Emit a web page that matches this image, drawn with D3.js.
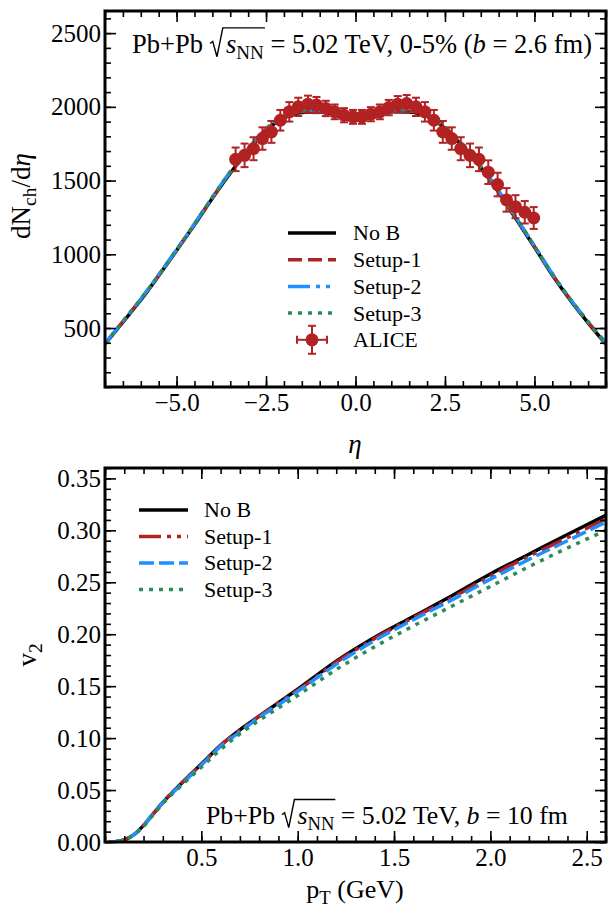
<!DOCTYPE html>
<html lang="en">
<head>
<meta charset="UTF-8">
<title>dNch/deta and v2, Pb+Pb 5.02 TeV</title>
<style>
  body { margin: 0; background: #fff; }
  svg, svg text, svg tspan { font-family: "Liberation Serif", "Times New Roman", "DejaVu Serif", serif !important; }
  .tick line { stroke: #000; stroke-width: 1.6; }
  .domain { display: none; }
</style>
</head>
<body>
<div id="chart"></div>
<script src="https://d3js.org/d3.v7.min.js"></script>
<script>
// ---- top panel: dNch/deta vs eta ----
const etaGrid = [-7, -6.5, -6, -5.5, -5, -4.5, -4, -3.5, -3, -2.5, -2, -1.5, -1, -0.5, 0,
                 0.5, 1, 1.5, 2, 2.5, 3, 3.5, 4, 4.5, 5, 5.5, 6, 6.5, 7];
const dnNoB   = [390, 540, 690, 855, 1025, 1200, 1380, 1550, 1705, 1840, 1925, 1962, 1966, 1940, 1908,
                 1932, 1966, 1965, 1935, 1855, 1730, 1590, 1420, 1235, 1050, 860, 690, 535, 390];
const dnSetup1 = [392, 543, 694, 858, 1028, 1204, 1384, 1556, 1712, 1848, 1932, 1968, 1970, 1944, 1912,
                 1936, 1970, 1970, 1941, 1862, 1736, 1595, 1425, 1240, 1054, 864, 694, 540, 394];
const dnSetup2 = [395, 546, 697, 861, 1031, 1207, 1388, 1560, 1716, 1852, 1936, 1972, 1974, 1946, 1914,
                 1938, 1974, 1975, 1946, 1866, 1740, 1599, 1430, 1244, 1058, 868, 697, 543, 397];
const dnSetup3 = [393, 544, 695, 859, 1029, 1205, 1386, 1558, 1714, 1850, 1934, 1970, 1972, 1945, 1913,
                 1937, 1972, 1972, 1944, 1864, 1738, 1597, 1428, 1242, 1056, 866, 695, 541, 395];

const aliceEta = [-3.35, -3.1, -2.85, -2.6, -2.35, -2.1, -1.85, -1.6, -1.33, -1.09, -0.83, -0.58, -0.32, -0.07,
                  0.18, 0.43, 0.68, 0.93, 1.18, 1.43, 1.69, 1.94, 2.19, 2.44, 2.69, 2.94, 3.2, 3.45,
                  3.71, 3.97, 4.22, 4.47, 4.73, 4.98];
const aliceVal = [1644, 1671, 1716, 1785, 1830, 1909, 1966, 2000, 2018, 2012, 1989, 1966, 1943, 1932,
                  1932, 1950, 1966, 1995, 2018, 2022, 2000, 1966, 1909, 1830, 1785, 1716, 1671, 1644,
                  1557, 1473, 1369, 1323, 1285, 1246];
const aliceErr = [80, 80, 78, 76, 74, 70, 66, 62, 58, 55, 52, 50, 48, 47,
                  47, 48, 50, 52, 55, 58, 62, 66, 70, 74, 76, 78, 80, 80,
                  80, 80, 80, 78, 76, 74];

const etaTicks = [-5, -2.5, 0, 2.5, 5];
const dnTicks = [500, 1000, 1500, 2000, 2500];

// ---- bottom panel: v2 vs pT ----
const ptGrid = [0.02, 0.05, 0.1, 0.15, 0.2, 0.25, 0.3, 0.4, 0.5, 0.6, 0.7, 0.8, 0.9, 1.0,
                1.2, 1.4, 1.6, 1.8, 2.0, 2.2, 2.4, 2.6];
const v2NoB    = [0, 0.0003, 0.002, 0.007, 0.016, 0.027, 0.038, 0.057, 0.075, 0.093, 0.108, 0.121, 0.134, 0.147,
                  0.174, 0.197, 0.217, 0.237, 0.258, 0.277, 0.296, 0.3145];
const v2Setup1 = [0, 0.0003, 0.002, 0.007, 0.016, 0.027, 0.038, 0.057, 0.075, 0.093, 0.108, 0.121, 0.134, 0.146,
                  0.173, 0.196, 0.216, 0.235, 0.256, 0.275, 0.293, 0.311];
const v2Setup2 = [0, 0.0003, 0.002, 0.007, 0.016, 0.027, 0.038, 0.056, 0.074, 0.092, 0.106, 0.120, 0.132, 0.145,
                  0.171, 0.194, 0.214, 0.233, 0.253, 0.272, 0.290, 0.308];
const v2Setup3 = [0, 0.0003, 0.002, 0.007, 0.015, 0.026, 0.037, 0.055, 0.072, 0.089, 0.104, 0.117, 0.129, 0.141,
                  0.166, 0.188, 0.208, 0.227, 0.246, 0.265, 0.283, 0.300];

const ptTicks = [0.5, 1.0, 1.5, 2.0, 2.5];
const v2Ticks = [0, 0.05, 0.10, 0.15, 0.20, 0.25, 0.30, 0.35];

const red = "#b22222", blue = "#1e90ff", green = "#2e8b57";
const serif = '"Liberation Serif", "Times New Roman", "DejaVu Serif", serif';

const svg = d3.select("#chart").append("svg")
  .attr("width", 611)
  .attr("height", 907)
  .style("font-family", serif);

const x1 = d3.scaleLinear().domain([-7, 7]).range([105, 606]);
const y1 = d3.scaleLinear().domain([100, 2650]).range([387, 11]);
const x2 = d3.scaleLinear().domain([0, 2.6]).range([105, 606]);
const y2 = d3.scaleLinear().domain([0, 0.36]).range([842, 468]);

function clip(id, x, y) {
  svg.append("clipPath").attr("id", id).append("rect")
    .attr("x", x.range()[0]).attr("y", y.range()[1])
    .attr("width", x.range()[1] - x.range()[0])
    .attr("height", y.range()[0] - y.range()[1]);
}
clip("c1", x1, y1);
clip("c2", x2, y2);

// ticks on all four sides, pointing inward
function drawAxes(x, y, xTicks, yTicks, xMinor, yMinor, xFmt, yFmt) {
  const [l, r] = x.range(), [b, t] = y.range();
  const style = g => g.attr("font-family", serif).selectAll("text")
    .style("font-size", "25px").style("font-family", serif);
  svg.append("g").attr("transform", `translate(0,${b})`)
    .call(d3.axisBottom(x).tickValues(xTicks).tickSize(-11).tickPadding(6).tickFormat(xFmt)).call(style);
  svg.append("g").attr("transform", `translate(0,${b})`)
    .call(d3.axisBottom(x).tickValues(xMinor).tickSize(-6).tickFormat(""));
  svg.append("g").attr("transform", `translate(0,${t})`)
    .call(d3.axisTop(x).tickValues(xTicks).tickSize(-11).tickFormat(""));
  svg.append("g").attr("transform", `translate(0,${t})`)
    .call(d3.axisTop(x).tickValues(xMinor).tickSize(-6).tickFormat(""));
  svg.append("g").attr("transform", `translate(${l},0)`)
    .call(d3.axisLeft(y).tickValues(yTicks).tickSize(-11).tickPadding(4).tickFormat(yFmt)).call(style);
  svg.append("g").attr("transform", `translate(${l},0)`)
    .call(d3.axisLeft(y).tickValues(yMinor).tickSize(-6).tickFormat(""));
  svg.append("g").attr("transform", `translate(${r},0)`)
    .call(d3.axisRight(y).tickValues(yTicks).tickSize(-11).tickFormat(""));
  svg.append("g").attr("transform", `translate(${r},0)`)
    .call(d3.axisRight(y).tickValues(yMinor).tickSize(-6).tickFormat(""));
  svg.append("rect").attr("x", l).attr("y", t).attr("width", r - l).attr("height", b - t)
    .attr("fill", "none").attr("stroke", "#000").attr("stroke-width", 3);
}

// text made of pieces: {t, i: italic, sub: subscript, rad: under radical}
function mathText(x, y, size, parts, rotate, anchor) {
  const t = svg.append("text").attr("x", x).attr("y", y)
    .style("font-size", size + "px").style("font-family", serif);
  if (rotate) t.attr("transform", `rotate(-90,${x},${y})`);
  if (anchor) t.attr("text-anchor", anchor);
  let shift = 0, idx = 0, radStart = -1, radEnd = -1;
  parts.forEach(p => {
    const s = t.append("tspan").text(p.t);
    if (p.i) s.style("font-style", "italic");
    const want = p.sub ? size * 0.24 : 0;
    if (want !== shift) { s.attr("dy", want - shift); shift = want; }
    if (p.sub) s.style("font-size", (size * 0.72) + "px");
    if (p.rad) {
      if (radStart < 0) { radStart = idx; s.attr("dx", size * 0.62); }
      radEnd = idx + p.t.length - 1;
    }
    idx += p.t.length;
  });
  if (radStart >= 0) {
    const n = t.node();
    const a = n.getStartPositionOfChar(radStart).x;
    const e = n.getEndPositionOfChar(radEnd).x;
    const s = size;
    const pts = [[a - 0.6 * s, y - 0.36 * s], [a - 0.5 * s, y - 0.44 * s], [a - 0.34 * s, y + 0.14 * s],
                 [a - 0.12 * s, y - 0.95 * s], [e + 0.04 * s, y - 0.95 * s]];
    svg.append("path").attr("d", d3.line()(pts))
      .attr("fill", "none").attr("stroke", "#000").attr("stroke-width", 1.4);
  }
  return t;
}

function label(x, y, size, str) {
  return svg.append("text").attr("x", x).attr("y", y).attr("dy", "0.34em")
    .style("font-size", size + "px").style("font-family", serif).text(str);
}

// ---------- top panel ----------
const line1 = d3.line().x((d, i) => x1(etaGrid[i])).y(d => y1(d)).curve(d3.curveMonotoneX);
const topSeries = [
  {name: "No B", vals: dnNoB, color: "#000", dash: null},
  {name: "Setup-1", vals: dnSetup1, color: red, dash: "14,6"},
  {name: "Setup-2", vals: dnSetup2, color: blue, dash: "22,6,4,6,4,6"},
  {name: "Setup-3", vals: dnSetup3, color: green, dash: "4,6"}
];
const gTop = svg.append("g").attr("clip-path", "url(#c1)");
topSeries.forEach(s => {
  gTop.append("path").attr("d", line1(s.vals))
    .attr("fill", "none").attr("stroke", s.color).attr("stroke-width", 3.5)
    .attr("stroke-dasharray", s.dash);
});

const alice = gTop.append("g");
aliceEta.forEach((e, i) => {
  const cx = x1(e), v = aliceVal[i], er = aliceErr[i];
  const g = alice.append("g").attr("stroke", red).attr("stroke-width", 2);
  g.append("line").attr("x1", cx).attr("x2", cx).attr("y1", y1(v - er)).attr("y2", y1(v + er));
  [v - er, v + er].forEach(yy => g.append("line")
    .attr("x1", cx - 4).attr("x2", cx + 4).attr("y1", y1(yy)).attr("y2", y1(yy)));
});
alice.selectAll("circle").data(aliceVal).join("circle")
  .attr("cx", (d, i) => x1(aliceEta[i])).attr("cy", d => y1(d)).attr("r", 6.5)
  .attr("fill", red);

drawAxes(x1, y1, etaTicks, dnTicks, x1.ticks(28), y1.ticks(26),
  d3.format(".1f"), d3.format("d"));

mathText(132, 53, 26.5, [
  {t: "Pb+Pb "}, {t: "s", i: true, rad: true}, {t: "NN", sub: true, rad: true},
  {t: " = 5.02 TeV, 0-5% ("}, {t: "b", i: true}, {t: " = 2.6 fm)"}
]);

// top legend
const leg1 = [...topSeries, {name: "ALICE"}];
leg1.forEach((s, i) => {
  const yy = 233 + i * 26.7;
  if (s.vals) {
    svg.append("line").attr("x1", 288).attr("x2", 336).attr("y1", yy).attr("y2", yy)
      .attr("stroke", s.color).attr("stroke-width", 3.5).attr("stroke-dasharray", s.dash);
  } else {
    const g = svg.append("g").attr("stroke", red).attr("stroke-width", 2);
    g.append("line").attr("x1", 297).attr("x2", 327).attr("y1", yy).attr("y2", yy);
    g.append("line").attr("x1", 312).attr("x2", 312).attr("y1", yy - 14).attr("y2", yy + 14);
    [297, 327].forEach(xx => g.append("line").attr("x1", xx).attr("x2", xx).attr("y1", yy - 4).attr("y2", yy + 4));
    [yy - 14, yy + 14].forEach(y0 => g.append("line").attr("x1", 308).attr("x2", 316).attr("y1", y0).attr("y2", y0));
    svg.append("circle").attr("cx", 312).attr("cy", yy).attr("r", 6.5).attr("fill", red);
  }
  label(353, yy, 22, s.name);
});

mathText(30, 196, 27, [{t: "dN"}, {t: "ch", sub: true}, {t: "/d"}, {t: "η", i: true}], true, "middle");
mathText(355, 453, 27, [{t: "η", i: true}], false, "middle");

// ---------- bottom panel ----------
const line2 = d3.line().x((d, i) => x2(ptGrid[i])).y(d => y2(d)).curve(d3.curveMonotoneX);
const botSeries = [
  {name: "No B", vals: v2NoB, color: "#000", dash: null},
  {name: "Setup-1", vals: v2Setup1, color: red, dash: "22,6,4,6,4,6"},
  {name: "Setup-2", vals: v2Setup2, color: blue, dash: "15,5"},
  {name: "Setup-3", vals: v2Setup3, color: green, dash: "4,6"}
];
const gBot = svg.append("g").attr("clip-path", "url(#c2)");
botSeries.forEach(s => {
  gBot.append("path").attr("d", line2(s.vals))
    .attr("fill", "none").attr("stroke", s.color).attr("stroke-width", 3.5)
    .attr("stroke-dasharray", s.dash);
});

drawAxes(x2, y2, ptTicks, v2Ticks, x2.ticks(26), y2.ticks(36),
  d3.format(".1f"), d3.format(".2f"));

botSeries.forEach((s, i) => {
  const yy = 510 + i * 26.5;
  svg.append("line").attr("x1", 139).attr("x2", 188).attr("y1", yy).attr("y2", yy)
    .attr("stroke", s.color).attr("stroke-width", 3.5).attr("stroke-dasharray", s.dash);
  label(204, yy, 22, s.name);
});

mathText(206, 824, 25.8, [
  {t: "Pb+Pb "}, {t: "s", i: true, rad: true}, {t: "NN", sub: true, rad: true},
  {t: " = 5.02 TeV, "}, {t: "b", i: true}, {t: " = 10 fm"}
]);

mathText(36, 655, 27, [{t: "v"}, {t: "2", sub: true}], true, "middle");
mathText(355, 898, 26, [{t: "p"}, {t: "T", sub: true}, {t: " (GeV)"}], false, "middle");
</script>
</body>
</html>
